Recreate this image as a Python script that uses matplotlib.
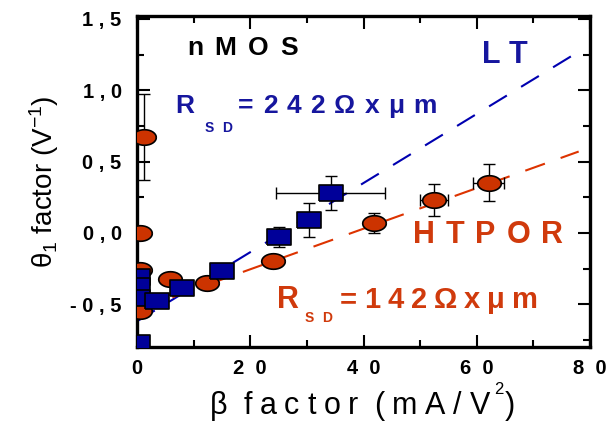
import numpy as np
import matplotlib
matplotlib.use('Agg')
import matplotlib.pyplot as plt
import matplotlib.transforms as mtransforms

plt.rcParams['font.family'] = 'Liberation Sans'
plt.rcParams['mathtext.fontset'] = 'custom'
plt.rcParams['mathtext.rm'] = 'Liberation Sans'
plt.rcParams['mathtext.it'] = 'Liberation Sans:italic'
plt.rcParams['mathtext.bf'] = 'Liberation Sans:bold'

nan = np.nan

# HT POR (red circles)
ht_x = [1.2, 0.5, 0.5, 0.5, 5.8, 12.4, 24.1, 41.8, 52.4, 62.1]
ht_y = [0.67, 0.0, -0.26, -0.55, -0.32, -0.35, -0.195, 0.07, 0.23, 0.35]
ht_yerr = [0.3, nan, nan, nan, 0.03, 0.04, 0.04, 0.07, 0.11, 0.13]
ht_xerr = [nan, nan, nan, nan, nan, nan, nan, nan, 2.5, 2.8]

# LT (blue squares)
lt_x = [0.2, 0.2, 0.2, 0.2, 3.6, 8.0, 15.0, 25.0, 30.3, 34.2]
lt_y = [-0.31, -0.37, -0.46, -0.77, -0.48, -0.385, -0.27, -0.03, 0.09, 0.28]
lt_yerr = [0.02, 0.02, 0.03, 0.03, 0.04, 0.04, 0.02, 0.07, 0.12, 0.12]
lt_xerr = [nan, nan, nan, nan, nan, nan, nan, nan, nan, 9.6]

# linear fits (end points)
lt_fit_x = [0, 78]
lt_fit_y = [-0.62, 1.27]
ht_fit_x = [0, 78]
ht_fit_y = [-0.54, 0.57]

xticks = [0, 20, 40, 60, 80]
xticklabels = ['0', '2  0', '4  0', '6  0', '8  0']
yticks = [-0.5, 0.0, 0.5, 1.0, 1.5]
yticklabels = ['- 0 , 5', '0 , 0', '0 , 5', '1 , 0', '1 , 5']

RED = '#CC3300'
BLUE = '#000099'
RED_TXT = '#D03A0C'
BLUE_TXT = '#16169E'

W, H = 611, 421
fig = plt.figure(figsize=(W / 100, H / 100), dpi=100)
renderer = fig.canvas.get_renderer()
ax = fig.add_axes([137 / W, 74 / H, 453 / W, 331 / H])

t = np.linspace(0, 2 * np.pi, 33)
ellipse = np.column_stack([np.cos(t), 0.66 * np.sin(t)])
rect = [(-1, -0.68), (1, -0.68), (1, 0.68), (-1, 0.68), (-1, -0.68)]

ax.plot(lt_fit_x, lt_fit_y, color='#0000B0', lw=1.5, dashes=(10, 8), zorder=1)
ax.plot(ht_fit_x, ht_fit_y, color='#DD3300', lw=1.5, dashes=(10, 8), zorder=1)

ax.errorbar(ht_x, ht_y, yerr=ht_yerr, xerr=ht_xerr, fmt='none', ecolor='black',
            elinewidth=1, capsize=4.5, capthick=1, zorder=2)
ax.errorbar(lt_x, lt_y, yerr=lt_yerr, xerr=lt_xerr, fmt='none', ecolor='black',
            elinewidth=1, capsize=4.5, capthick=1, zorder=2)
ax.plot(ht_x, ht_y, ls='none', marker=ellipse, ms=17, mfc=RED, mec='black', mew=1.2, zorder=3)
ax.plot(lt_x, lt_y, ls='none', marker=rect, ms=17, mfc=BLUE, mec='black', mew=1.2, zorder=4)

ax.set_xlim(0, 80)
ax.set_ylim(-0.8, 1.52)
ax.set_xticks(xticks)
ax.set_xticklabels(xticklabels)
ax.set_xticks([10, 30, 50, 70], minor=True)
ax.set_yticks(yticks)
ax.set_yticklabels(yticklabels)
ax.set_yticks([-0.75, -0.25, 0.25, 0.75, 1.25], minor=True)
ax.tick_params(which='both', direction='in', top=True, right=True, width=1.5)
ax.tick_params(which='major', length=9)
ax.tick_params(which='minor', length=5)
ax.tick_params(axis='x', pad=9)
ax.tick_params(axis='y', pad=11)
for lab in ax.get_xticklabels() + ax.get_yticklabels():
    lab.set_fontsize(14.5)
    lab.set_fontweight('bold')
for s in ax.spines.values():
    s.set_linewidth(2.4)


def spaced_text(x0, y0, s, width, **kw):
    # x0 = left edge, y0 = baseline, both in pixels from the top-left corner
    arts = [fig.text(x0 / W, 1 - y0 / H, ch, ha='left', va='baseline', **kw) for ch in s]
    ws = [a.get_window_extent(renderer).width if ch != ' ' else 0 for a, ch in zip(arts, s)]
    gap = (width - sum(ws)) / max(len(s) - 1, 1)
    shift = 0
    for a, w in zip(arts, ws):
        a.set_transform(mtransforms.offset_copy(fig.transFigure, fig=fig, x=shift, y=0, units='dots'))
        shift += w + gap


spaced_text(187, 55, 'nMOS', 111, fontsize=19, fontweight='bold', color='black')
spaced_text(482, 63, 'LT', 45, fontsize=22, fontweight='bold', color=BLUE_TXT)
spaced_text(175, 113, 'R', 17, fontsize=19, fontweight='bold', color=BLUE_TXT)
spaced_text(205, 132, 'SD', 27, fontsize=10, fontweight='bold', color=BLUE_TXT)
spaced_text(238, 113, '=242Ωxμm', 199, fontsize=19, fontweight='bold', color=BLUE_TXT)
spaced_text(413, 243, 'HTPOR', 150, fontsize=22, fontweight='bold', color=RED_TXT)
spaced_text(277, 308, 'R', 17, fontsize=22, fontweight='bold', color=RED_TXT)
spaced_text(305, 322, 'SD', 27, fontsize=10, fontweight='bold', color=RED_TXT)
spaced_text(340, 308, '=142Ωxμm', 198, fontsize=21, fontweight='bold', color=RED_TXT)

# x axis label
spaced_text(210, 414, 'β factor (mA/V', 280, fontsize=22, color='black')
fig.text(494 / W, 1 - 394 / H, '2', fontsize=12, ha='left', va='baseline')
fig.text(505 / W, 1 - 414 / H, ')', fontsize=22, ha='left', va='baseline')

# y axis label
fig.text(44 / W, 1 - 182 / H, 'θ$_1$ factor (V$^{-1}$)', fontsize=20, rotation=90,
         ha='center', va='center')

fig.savefig('out.png', dpi=100)
